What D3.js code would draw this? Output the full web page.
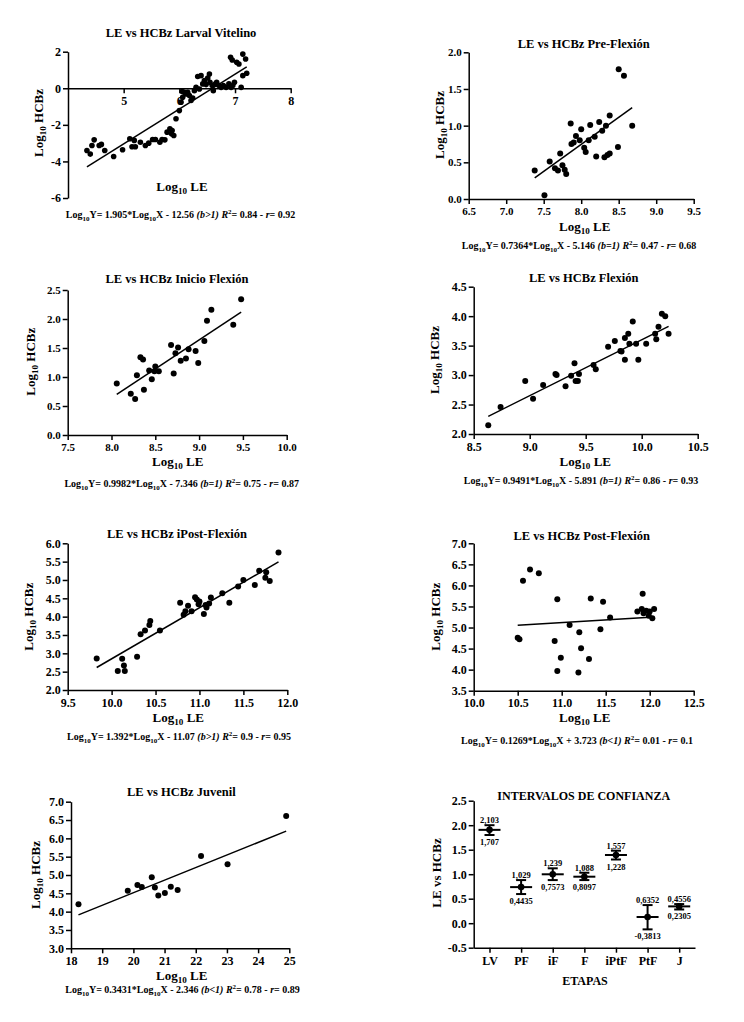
<html>
<head>
<meta charset="utf-8">
<title>LE vs HCBz</title>
<script src="https://d3js.org/d3.v7.min.js"></script>
<style>
  body { margin: 0; background: #fff; }
  .axis path, .axis line { stroke: #000; stroke-width: 1.5px; }
  .axis text { fill: #000; font-weight: bold; }
  text { font-family: "Liberation Serif", "Times New Roman", serif; font-weight: bold; }
</style>
</head>
<body>
<script>
// ---- data ----
const titles = ["LE vs HCBz Larval Vitelino", "LE vs HCBz Pre-Flexión", "LE vs HCBz Inicio Flexión",
  "LE vs HCBz Flexión", "LE vs HCBz iPost-Flexión", "LE vs HCBz Post-Flexión", "LE vs HCBz Juvenil"];

const lvX = [4.34,4.40,4.43,4.47,4.56,4.60,4.66,4.82,4.98,5.11,5.15,5.19,5.21,5.30,5.39,5.45,5.52,5.57,5.65,5.69,
  5.74,5.78,5.83,5.86,5.90,5.87,5.94,6.00,6.03,6.06,6.05,6.09,6.12,6.15,6.18,6.21,6.24,6.27,6.30,6.33,
  6.36,6.39,6.42,6.45,6.48,6.51,6.54,6.55,6.59,6.61,6.65,6.67,6.71,6.75,6.79,6.84,6.89,6.93,6.96,6.99,
  6.92,6.95,7.03,7.07,7.11,7.14,7.19,7.14,7.21];
const lvY = [-3.40,-3.60,-3.13,-2.82,-3.13,-3.07,-3.40,-3.73,-3.36,-2.76,-3.20,-2.85,-3.20,-2.95,-3.13,-3.00,-2.80,-2.80,-2.95,-2.80,
  -2.82,-2.40,-2.22,-2.49,-2.58,-2.31,-1.67,-1.22,-0.76,-0.49,-0.18,-0.22,-0.31,-0.22,-0.40,-0.67,-0.53,-0.13,0.05,0.64,
  -0.04,0.69,0.24,0.42,0.20,0.56,0.78,0.33,0.15,-0.13,0.24,0.33,0.15,0.05,0.15,0.05,0.24,0.05,0.15,0.33,
  1.69,1.55,1.42,1.33,0.05,1.87,1.60,0.69,0.82];

const pfX = [7.38,7.51,7.58,7.65,7.69,7.72,7.75,7.78,7.80,7.86,7.87,7.90,7.93,7.98,8.00,8.04,8.06,8.10,8.12,8.18,
  8.20,8.24,8.28,8.31,8.33,8.35,8.38,8.38,8.49,8.50,8.57,8.68];
const pfY = [0.39,0.05,0.51,0.42,0.39,0.62,0.46,0.40,0.34,1.03,0.75,0.77,0.86,0.80,0.95,0.70,0.64,0.80,1.01,0.85,
  0.58,1.05,0.93,0.57,1.00,0.60,0.62,1.14,0.71,1.77,1.68,1.00];

const ifX = [8.06,8.22,8.27,8.29,8.33,8.36,8.37,8.43,8.46,8.49,8.50,8.54,8.68,8.71,8.73,8.76,8.79,8.85,8.88,8.96,
  8.99,9.06,9.09,9.14,9.39,9.48];
const ifY = [0.89,0.71,0.62,1.03,1.34,1.30,0.78,1.11,0.96,1.10,1.18,1.10,1.55,1.06,1.41,1.51,1.28,1.32,1.48,1.45,
  1.24,1.62,1.97,2.16,1.90,2.34];

const fX = [8.63,8.74,8.96,9.03,9.12,9.23,9.24,9.32,9.37,9.40,9.41,9.43,9.44,9.57,9.59,9.70,9.76,9.81,9.82,9.85,
  9.85,9.88,9.89,9.92,9.95,9.97,10.04,10.12,10.13,10.15,10.18,10.21,10.24];
const fY = [2.15,2.46,2.90,2.60,2.83,3.02,3.00,2.81,2.99,3.20,2.90,2.90,3.02,3.17,3.10,3.48,3.58,3.41,3.40,3.63,
  3.26,3.70,3.53,3.91,3.53,3.26,3.53,3.70,3.61,3.82,4.04,4.00,3.70];

const iptfX = [9.83,10.07,10.12,10.14,10.15,10.29,10.33,10.38,10.43,10.44,10.55,10.78,10.82,10.84,10.87,10.91,10.95,10.97,10.99,11.00,
  11.05,11.07,11.08,11.11,11.13,11.26,11.34,11.44,11.50,11.63,11.68,11.75,11.76,11.80,11.90];
const iptfY = [2.86,2.52,2.85,2.67,2.52,2.91,3.52,3.62,3.77,3.88,3.62,4.38,4.05,4.15,4.30,4.15,4.53,4.47,4.34,4.41,
  4.07,4.32,4.25,4.36,4.52,4.64,4.38,4.82,5.00,4.86,5.25,5.06,5.21,4.97,5.75];

const ptfX = [10.50,10.52,10.56,10.64,10.74,10.92,10.95,10.95,10.99,11.09,11.19,11.20,11.22,11.31,11.33,11.44,11.47,11.55,11.86,11.91,
  11.92,11.93,11.96,11.99,12.00,12.03,12.05];
const ptfY = [4.76,4.72,6.11,6.38,6.29,4.68,5.67,3.97,4.28,5.06,3.93,4.89,4.51,4.25,5.69,4.96,5.61,5.24,5.38,5.44,
  5.80,5.34,5.40,5.28,5.38,5.22,5.44];

const jX = [18.24,19.82,20.13,20.27,20.59,20.69,20.80,21.01,21.20,21.42,22.17,23.02,24.90];
const jY = [4.20,4.57,4.73,4.67,4.94,4.66,4.44,4.51,4.68,4.59,5.52,5.29,6.61];

// regression results
const slopes = [1.905, 0.7364, 0.9982, 0.9491, 1.392, 0.1269, 0.3431];
const intercepts = [-12.56, -5.146, -7.346, -5.891, -11.07, 3.723, -2.346];
const bTests = ["(b>1)", "(b=1)", "(b=1)", "(b=1)", "(b>1)", "(b<1)", "(b<1)"];
const r2s = [0.84, 0.47, 0.75, 0.86, 0.9, 0.01, 0.78];
const rs = [0.92, 0.68, 0.87, 0.93, 0.95, 0.1, 0.89];

// axis ticks
const xTickSets = [[5,6,7,8], [6.5,7,7.5,8,8.5,9,9.5], [7.5,8,8.5,9,9.5,10], [8.5,9,9.5,10,10.5],
  [9.5,10,10.5,11,11.5,12], [10,10.5,11,11.5,12,12.5], [18,19,20,21,22,23,24,25]];
const yTickSets = [[-6,-4,-2,0,2], [0,0.5,1,1.5,2], [0,0.5,1,1.5,2,2.5], [2,2.5,3,3.5,4,4.5],
  [2,2.5,3,3.5,4,4.5,5,5.5,6], [3.5,4,4.5,5,5.5,6,6.5,7], [3,3.5,4,4.5,5,5.5,6,6.5,7]];

// confidence interval panel
const stages = ["LV", "PF", "iF", "F", "iPtF", "PtF", "J"];
const ciLow = [1.707, 0.4435, 0.7573, 0.8097, 1.228, -0.3813, 0.2305];
const ciHigh = [2.103, 1.029, 1.239, 1.088, 1.557, 0.6352, 0.4556];
const barLow = [1.80, 0.595, 0.88, 0.88, 1.30, -0.126, 0.28];
const barHigh = [2.00, 0.88, 1.12, 1.03, 1.48, 0.37, 0.39];
const ciTicks = [-0.5, 0, 0.5, 1, 1.5, 2, 2.5];

const series = [[lvX, lvY], [pfX, pfY], [ifX, ifY], [fX, fY], [iptfX, iptfY], [ptfX, ptfY], [jX, jY]];

// ---- layout (pixels) ----
const intFmt = d => String(d);
const layout = [
  {x: [68, 290.7], y: [198, 51.7], xd: [4, 8], yd: [-6, 2], xAt: 0, title: [181, 37], xl: [182, 191], yl: [43, 123], eq: [180.5, 218], sans: false, fx: intFmt, fy: intFmt, r: 2.8},
  {x: [468.7, 693.7], y: [199, 52.3], xd: [6.5, 9.5], yd: [0, 2], title: [583.7, 48], xl: [584.7, 231], yl: [443.7, 125], eq: [579, 249], sans: true, r: 3},
  {x: [67.7, 286.7], y: [435, 290], xd: [7.5, 10], yd: [0, 2.5], title: [177, 283], xl: [177.7, 466], yl: [35, 361.7], eq: [181.7, 487], sans: true, r: 3},
  {x: [473.7, 697.7], y: [434, 286.7], xd: [8.5, 10.5], yd: [2, 4.5], title: [583.7, 282], xl: [585.3, 466], yl: [438.7, 360], eq: [581, 484], sans: false, r: 3},
  {x: [67.7, 287.3], y: [690, 543.3], xd: [9.5, 12], yd: [2, 6], title: [177, 538], xl: [178.3, 722], yl: [33.3, 616.7], eq: [179, 740], sans: false, r: 3},
  {x: [473.7, 693.7], y: [690.7, 543.3], xd: [10, 12.5], yd: [3.5, 7], title: [581.7, 540], xl: [584.7, 722], yl: [440, 616.7], eq: [577, 744], sans: false, r: 3},
  {x: [71, 289.3], y: [948.3, 801.7], xd: [18, 25], yd: [3, 7], title: [181.3, 796], xl: [181.7, 980], yl: [40, 875], eq: [182.5, 993], sans: false, fx: intFmt, r: 3}
];

const svg = d3.select("body").append("svg")
  .attr("width", 744)
  .attr("height", 1022);

// writes text with sub/superscripts and italics
function richText(sel, parts) {
  let shift = 0;
  parts.forEach(function (p) {
    const target = p.sub ? 3 : (p.sup ? -4 : 0);
    const ts = sel.append("tspan").attr("dy", target - shift).text(p.t);
    if (p.sub || p.sup) ts.attr("font-size", "0.7em");
    if (p.it) ts.attr("font-style", "italic");
    shift = target;
  });
}

const logLabel = name => [{t: "Log"}, {t: "10", sub: true}, {t: " " + name}];
const oneDec = d => d.toFixed(1);

function scatterPanel(i) {
  const L = layout[i];
  const xs = series[i][0], ys = series[i][1];
  const x = d3.scaleLinear().domain(L.xd).range(L.x);
  const y = d3.scaleLinear().domain(L.yd).range(L.y);
  const tickFont = L.sans ? "'Liberation Sans', Arial, sans-serif" : "'Liberation Serif', 'Times New Roman', serif";
  const tickSize = L.sans ? 11 : 12;

  const yAxis = svg.append("g")
    .attr("class", "axis")
    .attr("transform", "translate(" + L.x[0] + ",0)")
    .call(d3.axisLeft(y).tickValues(yTickSets[i]).tickFormat(L.fy || oneDec).tickSize(5).tickSizeOuter(0));
  const xPos = L.xAt !== undefined ? y(L.xAt) : L.y[0];
  const xAxis = svg.append("g")
    .attr("class", "axis")
    .attr("transform", "translate(0," + xPos + ")")
    .call(d3.axisBottom(x).tickValues(xTickSets[i]).tickFormat(L.fx || oneDec).tickSize(5).tickSizeOuter(0));
  [xAxis, yAxis].forEach(function (a) {
    a.selectAll("text").attr("font-family", tickFont).attr("font-size", tickSize);
  });
  yAxis.selectAll("text").attr("x", -7);

  // fitted line
  const ext = d3.extent(xs);
  svg.append("line")
    .attr("x1", x(ext[0])).attr("y1", y(slopes[i] * ext[0] + intercepts[i]))
    .attr("x2", x(ext[1])).attr("y2", y(slopes[i] * ext[1] + intercepts[i]))
    .attr("stroke", "#000").attr("stroke-width", 1.5);

  svg.append("g").selectAll("circle")
    .data(xs.map((v, k) => [v, ys[k]]))
    .enter().append("circle")
    .attr("cx", d => x(d[0]))
    .attr("cy", d => y(d[1]))
    .attr("r", L.r)
    .attr("fill", "#000");

  svg.append("text")
    .attr("x", L.title[0]).attr("y", L.title[1])
    .attr("text-anchor", "middle").attr("font-size", 12.5)
    .text(titles[i]);

  richText(svg.append("text")
    .attr("x", L.xl[0]).attr("y", L.xl[1])
    .attr("text-anchor", "middle").attr("font-size", 13), logLabel("LE"));

  richText(svg.append("text")
    .attr("transform", "translate(" + L.yl[0] + "," + L.yl[1] + ") rotate(-90)")
    .attr("text-anchor", "middle").attr("font-size", 13), logLabel("HCBz"));

  const b = intercepts[i];
  richText(svg.append("text")
    .attr("x", L.eq[0]).attr("y", L.eq[1])
    .attr("text-anchor", "middle").attr("font-size", 10), [
      {t: "Log"}, {t: "10", sub: true}, {t: "Y= " + slopes[i] + "*Log"}, {t: "10", sub: true},
      {t: "X " + (b < 0 ? "- " : "+ ") + Math.abs(b) + " "}, {t: bTests[i], it: true}, {t: " "},
      {t: "R", it: true}, {t: "2", sup: true}, {t: "= " + r2s[i] + " - "}, {t: "r", it: true}, {t: "= " + rs[i]}
    ]);
}

for (let i = 0; i < 7; i++) scatterPanel(i);

// ---- confidence interval panel ----
const cx = d3.scalePoint().domain(stages).range([473.7, 695]).padding(0.5);
const cy = d3.scaleLinear().domain([-0.5, 2.5]).range([947.7, 800.7]);

const ciY = svg.append("g")
  .attr("class", "axis")
  .attr("transform", "translate(473.7,0)")
  .call(d3.axisLeft(cy).tickValues(ciTicks).tickFormat(oneDec).tickSize(5).tickSizeOuter(0));
ciY.selectAll("text").attr("font-size", 12).attr("x", -7);
const ciX = svg.append("g")
  .attr("class", "axis")
  .attr("transform", "translate(0,947.7)")
  .call(d3.axisBottom(cx).tickSize(5).tickSizeOuter(0));
ciX.selectAll("text").attr("font-size", 12).attr("y", 9);

const comma = v => String(v).replace(".", ",");
const g8 = svg.append("g");
stages.forEach(function (s, k) {
  const px = cx(s);
  g8.append("line").attr("x1", px).attr("x2", px).attr("y1", cy(barLow[k])).attr("y2", cy(barHigh[k]))
    .attr("stroke", "#000").attr("stroke-width", 2);
  [barLow[k], barHigh[k]].forEach(function (v) {
    g8.append("line").attr("x1", px - 5).attr("x2", px + 5).attr("y1", cy(v)).attr("y2", cy(v))
      .attr("stroke", "#000").attr("stroke-width", 2);
  });
  g8.append("line").attr("x1", px - 11).attr("x2", px + 11).attr("y1", cy(slopes[k])).attr("y2", cy(slopes[k]))
    .attr("stroke", "#000").attr("stroke-width", 2);
  g8.append("circle").attr("cx", px).attr("cy", cy(slopes[k])).attr("r", 3.3).attr("fill", "#000");
  g8.append("text").attr("x", px).attr("y", cy(barHigh[k]) - 2)
    .attr("text-anchor", "middle").attr("font-size", 8.5).text(comma(ciHigh[k]));
  g8.append("text").attr("x", px).attr("y", cy(barLow[k]) + 10)
    .attr("text-anchor", "middle").attr("font-size", 8.5).text(comma(ciLow[k]));
});

svg.append("text").attr("x", 583.7).attr("y", 800)
  .attr("text-anchor", "middle").attr("font-size", 12).text("INTERVALOS DE CONFIANZA");
svg.append("text").attr("transform", "translate(441,873) rotate(-90)")
  .attr("text-anchor", "middle").attr("font-size", 13).text("LE vs HCBz");
svg.append("text").attr("x", 585).attr("y", 985)
  .attr("text-anchor", "middle").attr("font-size", 12).text("ETAPAS");
</script>
</body>
</html>
